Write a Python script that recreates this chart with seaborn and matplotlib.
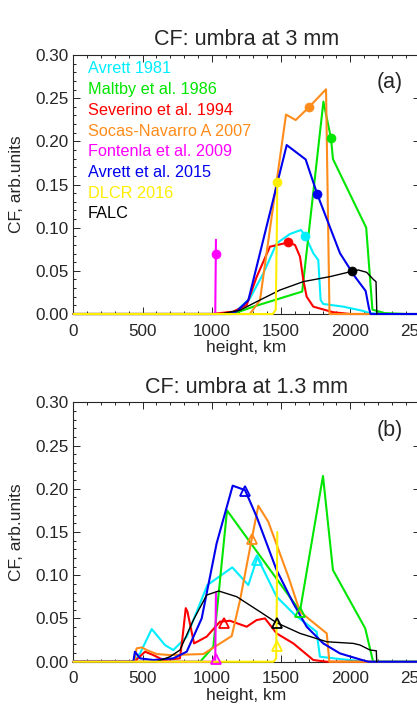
import matplotlib
matplotlib.use("Agg")
import matplotlib.pyplot as plt
from matplotlib.ticker import MultipleLocator
import seaborn as sns

# model names and colours (legend order)
models = ["Avrett 1981", "Maltby et al. 1986", "Severino et al. 1994", "Socas-Navarro A 2007",
          "Fontenla et al. 2009", "Avrett et al. 2015", "DLCR 2016", "FALC"]
colors = ["#00eeff", "#00e600", "#ff0000", "#ff8c1a", "#ff00ff", "#0000ee", "#ffee00", "#000000"]

# ---- CF at 3 mm (panel a), height in km ----
avrett81_3mm_h = [0, 1100, 1180, 1276, 1372, 1468, 1565, 1644, 1675, 1733, 1769, 1786, 1805, 1950, 2094, 2142, 2300, 2500]
avrett81_3mm_cf = [0, 0, 0.004, 0.0182, 0.047, 0.0818, 0.0927, 0.0973, 0.0907, 0.0703, 0.0626, 0.0162, 0.0116, 0.0085, 0.0035, 0.0008, 0, 0]
maltby_3mm_h = [0, 1150, 1300, 1653, 1806, 1861, 1875, 2115, 2160, 2250, 2400, 2500]
maltby_3mm_cf = [0, 0, 0.0085, 0.026, 0.246, 0.2035, 0.1795, 0.100, 0.005, 0.001, 0, 0]
severino_3mm_h = [0, 1000, 1155, 1252, 1324, 1420, 1516, 1548, 1601, 1637, 1661, 1685, 1733, 1878, 2000, 2150]
severino_3mm_cf = [0, 0, 0.0027, 0.0105, 0.043, 0.078, 0.0815, 0.083, 0.080, 0.0664, 0.0394, 0.0201, 0.0085, 0.002, 0, 0]
socas_3mm_h = [0, 1275, 1348, 1536, 1606, 1700, 1825, 1850, 2500]
socas_3mm_cf = [0, 0, 0.016, 0.231, 0.2247, 0.2393, 0.2603, 0, 0]
fontenla_3mm_h = [0, 1025, 1030]
fontenla_3mm_cf = [0, 0, 0.086]
avrett15_3mm_h = [0, 1100, 1180, 1264, 1541, 1678, 1762, 1926, 2034, 2111, 2135, 2147, 2500]
avrett15_3mm_cf = [0, 0, 0.003, 0.016, 0.1957, 0.179, 0.1386, 0.0703, 0.0432, 0.0267, 0.0066, 0, 0]
dlcr_3mm_h = [0, 1440, 1462, 1470, 1473]
dlcr_3mm_cf = [0, 0, 0.005, 0.10, 0.153]
falc_3mm_h = [0, 1059, 1204, 1348, 1493, 1661, 1854, 2012, 2058, 2118, 2166, 2186, 2192]
falc_3mm_cf = [0, 0, 0.0044, 0.0162, 0.0278, 0.0375, 0.0433, 0.0494, 0.051, 0.0483, 0.0402, 0.0374, 0]
# marked points (circles)
mark_3mm_h = [1675, 1861, 1548, 1700, 1030, 1762, 1473, 2012]
mark_3mm_cf = [0.090, 0.2035, 0.083, 0.2393, 0.070, 0.1386, 0.153, 0.0494]

# ---- CF at 1.3 mm (panel b) ----
avrett81_13mm_h = [0, 440, 482, 566, 662, 722, 819, 968, 1148, 1264, 1329, 1468, 1601, 1757, 1781, 1926, 2118, 2500]
avrett81_13mm_cf = [0, 0, 0.0097, 0.0378, 0.0193, 0.0135, 0.0289, 0.0887, 0.1091, 0.0887, 0.1207, 0.0752, 0.054, 0.0347, 0.0058, 0.0031, 0, 0]
maltby_13mm_h = [0, 916, 1011, 1110, 1637, 1803, 1875, 2108, 2165, 2500]
maltby_13mm_cf = [0, 0, 0.0173, 0.175, 0.0586, 0.2148, 0.106, 0.0386, 0, 0]
severino_13mm_h = [0, 440, 518, 578, 650, 770, 790, 812, 824, 872, 963, 1059, 1131, 1252, 1324, 1384, 1468, 1589, 1661, 1733, 1830, 2150]
severino_13mm_cf = [0, 0, 0.0116, 0.0077, 0.002, 0.0039, 0.03, 0.062, 0.058, 0.0212, 0.029, 0.0463, 0.0474, 0.0405, 0.0482, 0.0501, 0.0328, 0.0212, 0.0116, 0.002, 0, 0]
socas_13mm_h = [0, 440, 457, 494, 530, 602, 698, 939, 1144, 1204, 1288, 1336, 1408, 1553, 1637, 1830, 1849, 2500]
socas_13mm_cf = [0, 0, 0.0154, 0.0166, 0.0135, 0.0089, 0.0077, 0.0089, 0.0297, 0.0713, 0.1415, 0.1804, 0.1619, 0.0983, 0.0578, 0.0328, 0, 0]
fontenla_13mm_h = [0, 1025, 1030]
fontenla_13mm_cf = [0, 0, 0.080]
avrett15_13mm_h = [0, 433, 445, 482, 578, 722, 819, 927, 1035, 1151, 1240, 1324, 1468, 1589, 1685, 1805, 1926, 2070, 2130, 2500]
avrett15_13mm_cf = [0, 0, 0.0116, 0.0039, 0.002, 0.0039, 0.0116, 0.0501, 0.1369, 0.2036, 0.1985, 0.1677, 0.106, 0.0675, 0.0405, 0.0212, 0.0096, 0.0027, 0, 0]
dlcr_13mm_h = [0, 1445, 1465, 1470, 1473]
dlcr_13mm_cf = [0, 0, 0.004, 0.08, 0.150]
falc_13mm_h = [0, 600, 698, 770, 867, 963, 1050, 1180, 1348, 1468, 1637, 1830, 2022, 2071, 2143, 2188, 2191]
falc_13mm_cf = [0, 0, 0.0058, 0.0135, 0.0482, 0.0771, 0.0818, 0.0752, 0.0578, 0.0451, 0.0328, 0.0231, 0.0212, 0.0193, 0.0135, 0.0127, 0]
# marked points (open triangles)
mark_13mm_h = [1327, 1637, 1088, 1288, 1030, 1240, 1470, 1468]
mark_13mm_cf = [0.118, 0.058, 0.045, 0.1415, 0.003, 0.198, 0.018, 0.0451]

sns.set_style("ticks", {"xtick.direction": "in", "ytick.direction": "in"})
plt.rcParams["font.family"] = ["Liberation Sans", "DejaVu Sans"]

fig = plt.figure(figsize=(4.17, 7.21), dpi=100)
ax_a = fig.add_axes([0.1758, 0.5645, 0.8302, 0.3592])
ax_b = fig.add_axes([0.1758, 0.0822, 0.8302, 0.3598])

curves_a = [(avrett81_3mm_h, avrett81_3mm_cf), (maltby_3mm_h, maltby_3mm_cf), (severino_3mm_h, severino_3mm_cf),
            (socas_3mm_h, socas_3mm_cf), (fontenla_3mm_h, fontenla_3mm_cf), (avrett15_3mm_h, avrett15_3mm_cf),
            (falc_3mm_h, falc_3mm_cf), (dlcr_3mm_h, dlcr_3mm_cf)]
curves_b = [(avrett81_13mm_h, avrett81_13mm_cf), (maltby_13mm_h, maltby_13mm_cf), (severino_13mm_h, severino_13mm_cf),
            (socas_13mm_h, socas_13mm_cf), (fontenla_13mm_h, fontenla_13mm_cf), (avrett15_13mm_h, avrett15_13mm_cf),
            (falc_13mm_h, falc_13mm_cf), (dlcr_13mm_h, dlcr_13mm_cf)]
# drawing order: yellow on top of black
draw_colors = colors[:6] + [colors[7], colors[6]]

for ax, curves, title, tag in [(ax_a, curves_a, "CF: umbra at 3 mm", "(a)"),
                               (ax_b, curves_b, "CF: umbra at 1.3 mm", "(b)")]:
    for (h, cf), c in zip(curves, draw_colors):
        lw = 1.0 if c == "#000000" else 1.5
        sns.lineplot(x=h, y=cf, estimator=None, sort=False, color=c, lw=lw, ax=ax,
                     clip_on=False, zorder=3)
    ax.set_xlim(0, 2500)
    ax.set_ylim(0, 0.30)
    ax.xaxis.set_major_locator(MultipleLocator(500))
    ax.xaxis.set_minor_locator(MultipleLocator(100))
    ax.yaxis.set_major_locator(MultipleLocator(0.05))
    ax.yaxis.set_minor_locator(MultipleLocator(0.01))
    ax.tick_params(which="both", direction="in", top=True, right=True, width=0.7, labelsize=12.3)
    ax.tick_params(which="major", length=5)
    ax.tick_params(which="minor", length=2.5)
    ax.tick_params(axis="x", pad=7)
    ax.tick_params(axis="y", pad=3.5)
    for s in ax.spines.values():
        s.set_linewidth(0.8)
        s.set_visible(True)
    ax.set_title(title, fontsize=15.5, pad=7)
    ax.set_xlabel("height, km", fontsize=12.5, labelpad=1)
    ax.set_ylabel("CF, arb.units", fontsize=12.5, labelpad=8)
    ax.text(0.915, 0.893, tag, transform=ax.transAxes, fontsize=15.5, ha="center", va="center")

# legend as coloured text in panel a
for i, (name, c) in enumerate(zip(models, colors)):
    ax_a.text(0.0425, 0.946 - i * 0.0799, name, color=c, fontsize=11.7,
              transform=ax_a.transAxes, ha="left", va="center")

# markers
for hh, vv, c in zip(mark_3mm_h, mark_3mm_cf, colors):
    sns.scatterplot(x=[hh], y=[vv], color=c, s=42, marker="o", edgecolor=c, linewidth=0.5, ax=ax_a, zorder=5)
for hh, vv, c in zip(mark_13mm_h, mark_13mm_cf, colors):
    ax_b.plot([hh], [vv], marker="^", ms=7, mfc="none", mec=c, mew=1.3, ls="none", zorder=5, clip_on=False)

fig.savefig("out.png", dpi=100)
